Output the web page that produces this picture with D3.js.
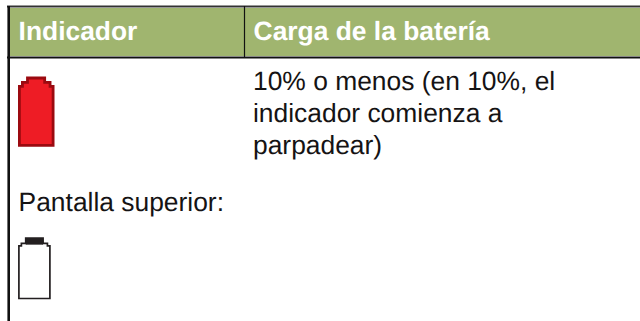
<!DOCTYPE html>
<html lang="es">
<head>
    <meta charset="utf-8">
    <title>Indicador</title>
    <style type="text/css">
        html, body { margin: 0; padding: 0; background: #fff; }
        svg { display: block; }
        text { font-family: "Liberation Sans", Arial, sans-serif; text-rendering: geometricPrecision; }
        .head { font-size: 26.4px; font-weight: bold; fill: #fff; }
        .cell { font-size: 26.4px; fill: #151314; }
    </style>
</head>
<body>
   <svg class="tabla" width="640" height="321"></svg>

   <script src="https://d3js.org/d3.v7.min.js"></script>
   <script>
        // contenido de la tabla
        var headers = ['Indicador', 'Carga de la batería'];
        var levelLines = ['10% o menos (en 10%, el', 'indicador comienza a', 'parpadear)'];
        var screenLabel = 'Pantalla superior:';

        // silueta de la batería, en unidades del icono (0-100)
        var redOutline = [[24, 0], [75, 0], [75, 6.5], [91, 6.5], [91, 12.5], [100, 12.5], [100, 100], [0, 100], [0, 12.5], [9, 12.5], [9, 6.5], [24, 6.5]];
        var whiteOutline = [[22, 0], [78, 0], [78, 9], [92, 9], [92, 13], [100, 13], [100, 100], [0, 100], [0, 13], [8, 13], [8, 9], [22, 9]];
        var capBlock = [[22, 0], [78, 0], [78, 11], [22, 11]];

        var svg = d3.select('.tabla');

        var head_h = [8, 56],
            lineY = d3.scalePoint().domain(d3.range(levelLines.length)).range([90, 154]),
            colX = d3.scaleOrdinal().domain(headers).range([18.6, 253.6]);

        // cabecera
        svg.append('rect').attr('x', 8).attr('y', head_h[0])
            .attr('width', 632).attr('height', head_h[1] - head_h[0])
            .attr('fill', '#a0b56f');

        svg.selectAll('.head').data(headers).enter().append('text')
            .attr('class', 'head')
            .attr('x', function(d) { return colX(d); })
            .attr('y', 39.5)
            .text(function(d) { return d; });

        // bordes
        var borders = svg.append('g').attr('stroke', '#111').attr('fill', 'none');
        borders.append('line').attr('x1', 7).attr('x2', 640).attr('y1', 6.5).attr('y2', 6.5).attr('stroke-width', 2).attr('stroke', '#333');
        borders.append('line').attr('x1', 7).attr('x2', 640).attr('y1', 57.5).attr('y2', 57.5).attr('stroke-width', 2.2);
        borders.append('line').attr('x1', 8.7).attr('x2', 8.7).attr('y1', 6).attr('y2', 321).attr('stroke-width', 2.6);
        borders.append('line').attr('x1', 244.5).attr('x2', 244.5).attr('y1', 6).attr('y2', 57).attr('stroke-width', 1.2);

        // texto
        svg.selectAll('.cell').data(levelLines).enter().append('text')
            .attr('class', 'cell')
            .attr('x', 253)
            .attr('y', function(d, i) { return lineY(i); })
            .text(function(d) { return d; });

        svg.append('text').attr('class', 'cell')
            .attr('x', 18.6).attr('y', 211)
            .text(screenLabel);

        // iconos
        function shape(points, xr, yr) {
            var x = d3.scaleLinear().domain([0, 100]).range(xr),
                y = d3.scaleLinear().domain([0, 100]).range(yr);
            return d3.line().x(function(d) { return x(d[0]); }).y(function(d) { return y(d[1]); })(points) + 'Z';
        }

        svg.append('path')
            .attr('d', shape(redOutline, [19.4, 53.1], [78, 145.3]))
            .attr('fill', '#ee1c25').attr('stroke', '#9b0a10').attr('stroke-width', 2.8);

        svg.append('path')
            .attr('d', shape(whiteOutline, [18.9, 49.9], [238, 298.5]))
            .attr('fill', '#fff').attr('stroke', '#231f20').attr('stroke-width', 1.7);

        svg.append('path')
            .attr('d', shape(capBlock, [18.9, 49.9], [238, 298.5]))
            .attr('fill', '#231f20');
   </script>
</body>
</html>
